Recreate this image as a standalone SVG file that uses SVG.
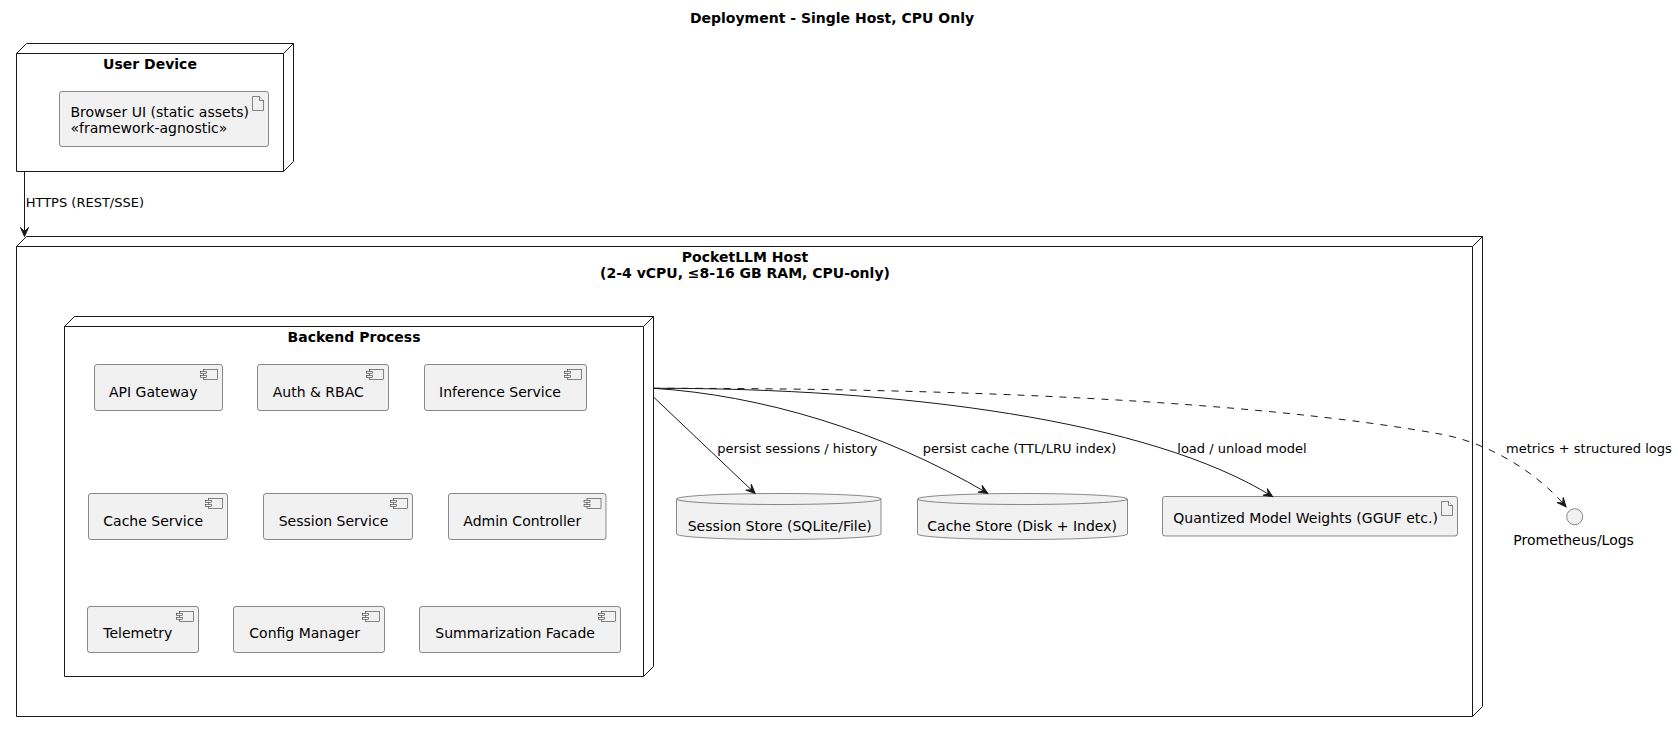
<svg xmlns="http://www.w3.org/2000/svg" width="1678" height="732" viewBox="0 0 1678 732">
<defs>
<style>
text{font-family:"DejaVu Sans","Liberation Sans",sans-serif;fill:#000}
.title{font-size:14px;font-weight:bold}
.ntitle{font-size:14px;font-weight:bold;text-anchor:middle}
.lbl{font-size:14px}
.elbl{font-size:13px}
.node{fill:#fff;stroke:#181818;stroke-width:1}
.nline{fill:none;stroke:#181818;stroke-width:1}
.comp{fill:#F1F1F1;stroke:#181818;stroke-width:0.5}
.icon{fill:#F1F1F1;stroke:#181818;stroke-width:0.5}
.edge{fill:none;stroke:#181818;stroke-width:1}
.dash{stroke-dasharray:7,7}
</style>
<marker id="arr" markerWidth="12" markerHeight="10" refX="10" refY="5" orient="auto" markerUnits="userSpaceOnUse" viewBox="0 0 12 10">
<path d="M10,5 L1,1 L5,5 L1,9 Z" fill="#181818" stroke="#181818" stroke-width="1" stroke-dasharray="none"/>
</marker>
<g id="cicon">
<rect x="-19" y="5" width="14" height="10" class="icon"/>
<rect x="-22" y="7" width="6" height="2" class="icon"/>
<rect x="-22" y="11" width="6" height="2" class="icon"/>
</g>
<g id="aicon">
<path d="M-16,5 L-9,5 L-5,9 L-5,19 L-16,19 Z" class="icon"/>
<path d="M-9,5 L-9,9 L-5,9" class="icon" fill="none"/>
</g>
</defs>
<rect width="1678" height="732" fill="#fff"/>
<text class="title" x="832" y="23" text-anchor="middle">Deployment - Single Host, CPU Only</text>

<g id="user-device">
<path class="node" d="M16.5,53.5 L26.5,43.5 L293.5,43.5 L293.5,161.5 L283.5,171.5 L16.5,171.5 Z"/>
<path class="nline" d="M283.5,53.5 L293.5,43.5 M16.5,53.5 L283.5,53.5 L283.5,171.5"/>
<text class="ntitle" x="150" y="68.5">User Device</text>
</g>
<g id="browser-ui">
<rect class="comp" x="59.5" y="91.5" width="209" height="55" rx="2.5"/>
<use href="#aicon" x="268.5" y="91.5"/>
<text class="lbl" x="70.5" y="116.7">Browser UI (static assets)</text>
<text class="lbl" x="70.5" y="132.7">«framework-agnostic»</text>
</g>

<g id="host">
<path class="node" d="M16.5,246.5 L26.5,236.5 L1482.5,236.5 L1482.5,706.5 L1472.5,716.5 L16.5,716.5 Z"/>
<path class="nline" d="M1472.5,246.5 L1482.5,236.5 M16.5,246.5 L1472.5,246.5 L1472.5,716.5"/>
<text class="ntitle" x="745" y="261.7">PocketLLM Host</text>
<text class="ntitle" x="745" y="278.3">(2-4 vCPU, ≤8-16 GB RAM, CPU-only)</text>
</g>

<g id="backend">
<path class="node" d="M64.5,326.5 L74.5,316.5 L653.5,316.5 L653.5,666.5 L643.5,676.5 L64.5,676.5 Z"/>
<path class="nline" d="M643.5,326.5 L653.5,316.5 M64.5,326.5 L643.5,326.5 L643.5,676.5"/>
<text class="ntitle" x="354" y="341.7">Backend Process</text>
</g>

<g id="api-gateway">
<rect class="comp" x="94.5" y="364.5" width="128" height="46" rx="2.5"/>
<use href="#cicon" x="222.5" y="364.5"/>
<text class="lbl" x="109" y="396.7">API Gateway</text>
</g>
<g id="auth-rbac">
<rect class="comp" x="257.5" y="364.5" width="131" height="46" rx="2.5"/>
<use href="#cicon" x="388.5" y="364.5"/>
<text class="lbl" x="272.7" y="396.7">Auth &amp; RBAC</text>
</g>
<g id="inference-service">
<rect class="comp" x="424.5" y="364.5" width="162" height="46" rx="2.5"/>
<use href="#cicon" x="586.5" y="364.5"/>
<text class="lbl" x="439" y="396.7">Inference Service</text>
</g>

<g id="cache-service">
<rect class="comp" x="88.5" y="493.5" width="139" height="46" rx="2.5"/>
<use href="#cicon" x="227.5" y="493.5"/>
<text class="lbl" x="103.3" y="525.7">Cache Service</text>
</g>
<g id="session-service">
<rect class="comp" x="263.5" y="493.5" width="149" height="46" rx="2.5"/>
<use href="#cicon" x="412.5" y="493.5"/>
<text class="lbl" x="278.7" y="525.7">Session Service</text>
</g>
<g id="admin-controller">
<rect class="comp" x="448.5" y="493.5" width="157.5" height="46" rx="2.5"/>
<use href="#cicon" x="606" y="493.5"/>
<text class="lbl" x="463.3" y="525.7">Admin Controller</text>
</g>

<g id="telemetry">
<rect class="comp" x="87.5" y="606.5" width="111" height="46" rx="2.5"/>
<use href="#cicon" x="198.5" y="606.5"/>
<text class="lbl" x="103.3" y="638.3">Telemetry</text>
</g>
<g id="config-manager">
<rect class="comp" x="233.5" y="606.5" width="151" height="46" rx="2.5"/>
<use href="#cicon" x="384.5" y="606.5"/>
<text class="lbl" x="249.3" y="638.3">Config Manager</text>
</g>
<g id="summarization-facade">
<rect class="comp" x="419.5" y="606.5" width="201" height="46" rx="2.5"/>
<use href="#cicon" x="620.5" y="606.5"/>
<text class="lbl" x="435.3" y="638.3">Summarization Facade</text>
</g>

<g id="session-store">
<path class="comp" d="M676.5,499 A102.25,5.5 0 0 1 881,499 L881,534 A102.25,5.5 0 0 1 676.5,534 Z"/>
<path class="comp" fill="none" d="M676.5,499 A102.25,5.5 0 0 0 881,499"/>
<text class="lbl" x="687.7" y="530.7">Session Store (SQLite/File)</text>
</g>
<g id="cache-store">
<path class="comp" d="M917.5,499 A105,5.5 0 0 1 1127.5,499 L1127.5,534 A105,5.5 0 0 1 917.5,534 Z"/>
<path class="comp" fill="none" d="M917.5,499 A105,5.5 0 0 0 1127.5,499"/>
<text class="lbl" x="927.3" y="530.7">Cache Store (Disk + Index)</text>
</g>
<g id="model-weights">
<rect class="comp" x="1162.5" y="496.5" width="295" height="39.5" rx="2.5"/>
<use href="#aicon" x="1457.5" y="496.5"/>
<text class="lbl" x="1173.3" y="522.7">Quantized Model Weights (GGUF etc.)</text>
</g>

<g id="prometheus">
<circle class="comp" cx="1574.7" cy="516.7" r="8"/>
<text class="lbl" x="1513.3" y="545">Prometheus/Logs</text>
</g>

<g id="connectors">
<path class="edge" d="M24.5,171.5 L24.5,236.5" marker-end="url(#arr)"/>
<text class="elbl" x="25.7" y="207.3">HTTPS (REST/SSE)</text>
<path class="edge" d="M653.5,397 L755,493.3" marker-end="url(#arr)"/>
<text class="elbl" x="717.3" y="453.3">persist sessions / history</text>
<path class="edge" d="M653.5,388.3 C760,395 880,430 987.7,493.3" marker-end="url(#arr)"/>
<text class="elbl" x="922.7" y="453.3">persist cache (TTL/LRU index)</text>
<path class="edge" d="M653.5,388.3 C900,388 1150,420 1272.7,496.7" marker-end="url(#arr)"/>
<text class="elbl" x="1177.3" y="453.3">load / unload model</text>
<path class="edge dash" d="M653.5,388.3 C950,388 1250,400 1440,434 C1480,441 1530,465 1566,506.7" marker-end="url(#arr)"/>
<text class="elbl" x="1506" y="453.3">metrics + structured logs</text>
</g>
</svg>
